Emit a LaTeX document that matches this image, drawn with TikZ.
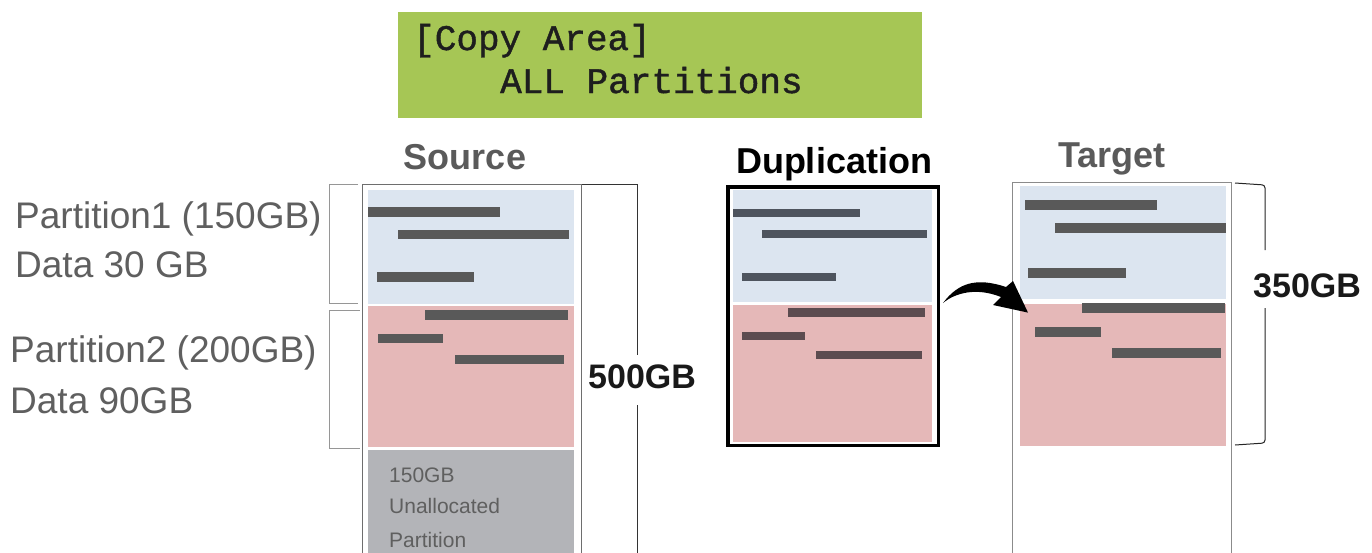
\documentclass[tikz,border=0pt]{standalone}
\usepackage{fontspec}
\setmainfont{Liberation Sans}
\newfontfamily\lcdfont[FakeBold=1.2]{Liberation Mono}
\usetikzlibrary{arrows.meta}
\definecolor{lcdgreen}{RGB}{166,198,85}
\definecolor{lcdtext}{RGB}{30,30,30}
\definecolor{pblue}{RGB}{220,229,240}
\definecolor{ppink}{RGB}{229,184,184}
\definecolor{pgray}{RGB}{179,180,184}
\definecolor{barc}{RGB}{89,89,89}
\definecolor{barblue}{RGB}{78,84,94}
\definecolor{barpink}{RGB}{92,76,80}
\definecolor{txtgray}{RGB}{90,90,90}
\definecolor{ltxt}{RGB}{95,95,95}
\definecolor{boxgray}{RGB}{110,110,110}
\definecolor{brkgray}{RGB}{150,150,150}
\begin{document}
\begin{tikzpicture}[x=1pt,y=-1pt,
  title/.style={font=\bfseries\fontsize{36}{40}\selectfont, inner sep=0, anchor=base},
  lbl/.style={font=\fontsize{37}{40}\selectfont, text=ltxt, inner sep=0, anchor=base west},
  small/.style={font=\fontsize{21}{24}\selectfont, text=ltxt, inner sep=0, anchor=base west},
  size/.style={font=\bfseries\fontsize{34}{38}\selectfont, text=black!90, inner sep=0, anchor=base west},
  lcd/.style={font=\lcdfont\fontsize{36}{40}\selectfont, text=lcdtext, inner sep=0, anchor=base west},
  brk/.style={draw=brkgray, line width=1pt},
  bbox/.style={draw=boxgray, line width=1.2pt}
]
\useasboundingbox (0,0) rectangle (1372,552);
\fill[white] (0,0) rectangle (1372,552);

% LCD panel
\node[fill=lcdgreen, minimum width=524pt, minimum height=106pt, inner sep=0, anchor=north west] (lcd) at (398,12) {};
\node[lcd] (lcd1) at (413,50) {[Copy Area]};
\node[lcd] (lcd2) at (500,93) {ALL Partitions};

% titles
\node[title, text=txtgray] (srcT) at (465,169) {Source};
\node[title, text=black] (dupT) at (834,173) {Duplication};
\node[title, text=txtgray] (tgtT) at (1112,167) {Target};

% ---------- Source disk ----------
\fill[pblue] (368,190) rectangle (574,304);
\fill[ppink] (368,306) rectangle (574,447);
\fill[pgray] (368,450) rectangle (574,560);
\begin{scope}[barc]
\fill (368,207) rectangle (500,217);
\fill (398,230) rectangle (569,239);
\fill (377,272) rectangle (474,282);
\fill (425,310) rectangle (568,320);
\fill (378,334) rectangle (443,343);
\fill (455,355) rectangle (564,364);
\end{scope}
\node[bbox, minimum width=219pt, minimum height=390pt, inner sep=0, anchor=north west] (src) at (362,184) {};
\node[small] (u1) at (389,482) {150GB};
\node[small] (u2) at (389,513) {Unallocated};
\node[small] (u3) at (389,547) {Partition};

% 500GB bracket
\coordinate (b5top) at (637,184);
\draw[draw=black!80, line width=1pt] (src.north east) -- (b5top) -- (637,355);
\draw[draw=black!80, line width=1pt] (637,405) -- (637,580);
\node[size] (s500) at (588,388) {500GB};

% left brackets and labels
\draw[brk] (358,184) -- (329,184) -- (329,303) -- (358,303);
\draw[brk] (360,310) -- (329,310) -- (329,448) -- (360,448);
\node[lbl] (p1) at (15,228) {Partition1 (150GB)};
\node[lbl] (d1) at (15,277) {Data 30 GB};
\node[lbl] (p2) at (10,362) {Partition2 (200GB)};
\node[lbl] (d2) at (10,413) {Data 90GB};

% ---------- Duplication ----------
\fill[pblue] (733,190) rectangle (932,302);
\fill[ppink] (733,305) rectangle (932,442);
\fill[barblue] (733,209) rectangle (860,217);
\fill[barblue] (762,230) rectangle (927,238);
\fill[barblue] (742,273) rectangle (836,281);
\fill[barpink] (788,308) rectangle (925,317);
\fill[barpink] (742,332) rectangle (805,340);
\fill[barpink] (816,351) rectangle (922,359);
\node[draw=black, line width=3.5pt, minimum width=210.5pt, minimum height=258.5pt, inner sep=0] (dup) at (833,316) {};

% ---------- Target ----------
\fill[pblue] (1020,186) rectangle (1226,299);
\fill[ppink] (1020,304) rectangle (1226,446);
\begin{scope}[barc]
\fill (1025,200) rectangle (1157,210);
\fill (1055,223) rectangle (1226,233);
\fill (1028,268) rectangle (1126,278);
\fill (1082,303) rectangle (1225,313);
\fill (1035,327) rectangle (1101,337);
\fill (1112,348) rectangle (1221,358);
\end{scope}
\node[draw=boxgray!80, line width=1.2pt, minimum width=219pt, minimum height=392pt, inner sep=0, anchor=north west] (tgt) at (1012,182) {};

% 350GB bracket
\draw[black!85, line width=1pt, rounded corners=3pt] (1235,183) -- (1265,185) -- (1265,250);
\draw[black!85, line width=1pt, rounded corners=3pt] (1265,308) -- (1265,443) -- (1235,445);
\node[size] (s350) at (1253,297) {350GB};

% curved arrow from Duplication to Target
\coordinate (arrS) at ([xshift=3pt,yshift=13pt]dup.east);
\coordinate (arrT) at ([xshift=16pt,yshift=66pt]tgt.west);
\fill[black] (arrS) .. controls +(15,-20) and +(-30,-10) .. (1006,287) -- (1013,281) -- (arrT) -- (993,305) -- (1001,297) .. controls +(-25,-10) and +(12,-10) .. (arrS) -- cycle;
\end{tikzpicture}
\end{document}
